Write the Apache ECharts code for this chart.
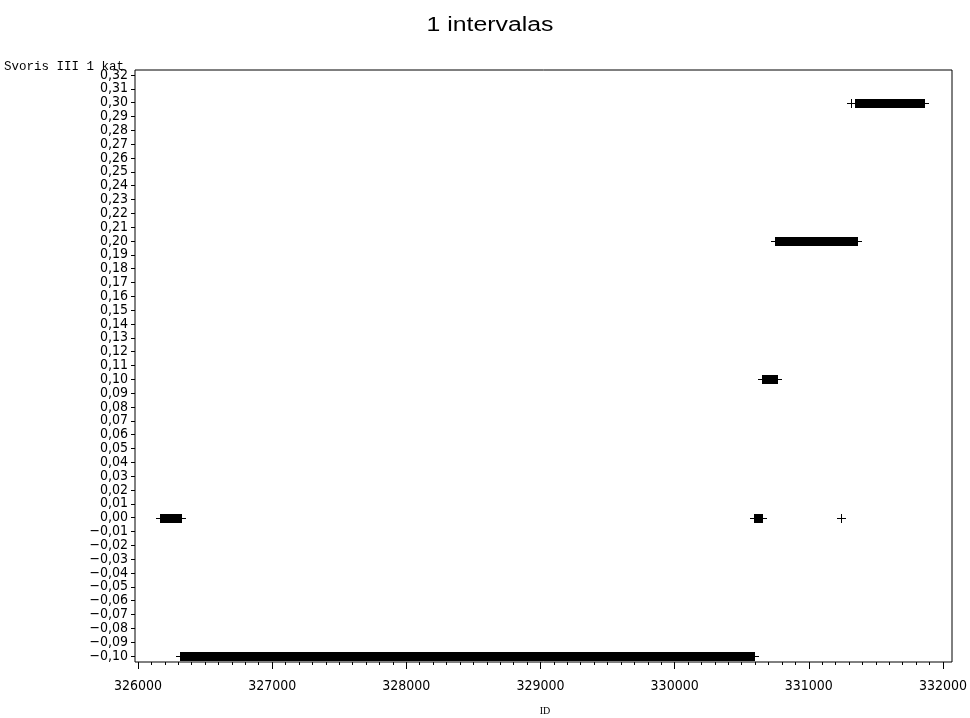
<!DOCTYPE html>
<html>
<head>
<meta charset="utf-8">
<script src="https://cdn.jsdelivr.net/npm/echarts@6/dist/echarts.min.js"></script>
<style>
  html, body { margin: 0; padding: 0; background: #fff; }
  #chart { width: 970px; height: 718px; }
</style>
</head>
<body>
<div id="chart"></div>
<script>
// Runs of consecutive IDs sharing the same weight value: [first ID, last ID, value]
const runStart = [326310, 326161, 330590, 331240, 330650, 330750, 331313, 331343];
const runEnd   = [330588, 326321, 330650, 331240, 330760, 331358, 331313, 331855];
const runValue = [-0.10,  0.00,   0.00,   0.00,   0.10,   0.20,   0.30,   0.30];

const titleText = '1 intervalas';
const yName = 'Svoris III 1 kat';
const xName = 'ID';
const xMin = 326000, xMax = 332000, xStep = 1000;
const yMin = -0.10, yMax = 0.32, yStep = 0.01;

const runs = runStart.map((s, i) => [s, runEnd[i], runValue[i]]);

const fmtY = v => {
  const s = Math.abs(v).toFixed(2).replace('.', ',');
  return (v < -1e-9 ? '\u2212' : '') + s;
};

const chart = echarts.init(document.getElementById('chart'), null, { renderer: 'canvas' });

const tickFont = { fontFamily: 'DejaVu Sans Condensed, Liberation Sans Narrow, Liberation Sans, sans-serif', fontSize: 14, color: '#000' };

chart.setOption({
  animation: false,
  backgroundColor: '#fff',
  graphic: [
    {
      type: 'text', x: 490, y: 15, scaleX: 1.24, originX: 0,
      style: { text: titleText, align: 'center', verticalAlign: 'top', fontFamily: 'Liberation Sans, Arial, sans-serif', fontSize: 20, fill: '#000' }
    },
    {
      type: 'text', left: 4, top: 60,
      style: { text: yName, fontFamily: 'Liberation Mono, DejaVu Sans Mono, monospace', fontSize: 12.5, fill: '#000' }
    },
    {
      type: 'text', x: 545, y: 711,
      style: { text: xName, align: 'center', verticalAlign: 'middle', fontFamily: 'Liberation Serif, DejaVu Serif, serif', fontSize: 10, fill: '#000' }
    }
  ],
  grid: [
    // data area
    { left: 138, right: 22, top: 75, bottom: 62, show: false },
    // outer frame
    { left: 135, right: 18, top: 70, bottom: 56, show: true, borderColor: '#000', borderWidth: 1, backgroundColor: 'transparent' }
  ],
  xAxis: [
    {
      gridIndex: 0, type: 'value', min: xMin, max: xMax, interval: xStep,
      position: 'bottom', offset: 6,
      axisLine: { show: false, onZero: false },
      axisTick: { show: true, inside: false, length: 7, lineStyle: { color: '#000', width: 1 } },
      minorTick: { show: true, splitNumber: 10, length: 3, lineStyle: { color: '#000', width: 1 } },
      axisLabel: { margin: 17, ...tickFont, formatter: v => String(v) },
      splitLine: { show: false }
    },
    { gridIndex: 1, type: 'value', show: false, min: 0, max: 1 }
  ],
  yAxis: [
    {
      gridIndex: 0, type: 'value', min: yMin, max: yMax, interval: yStep,
      position: 'left', offset: 3,
      axisLine: { show: false, onZero: false },
      axisTick: { show: true, inside: false, length: 4, lineStyle: { color: '#000', width: 1 } },
      axisLabel: { margin: 7, ...tickFont, formatter: fmtY },
      splitLine: { show: false }
    },
    { gridIndex: 1, type: 'value', show: false, min: 0, max: 1 }
  ],
  series: [
    {
      type: 'custom',
      xAxisIndex: 0, yAxisIndex: 0,
      data: runs,
      clip: false,
      renderItem: function (params, api) {
        const p0 = api.coord([api.value(0), api.value(2)]);
        const p1 = api.coord([api.value(1), api.value(2)]);
        const half = 4.5;
        const x0 = Math.round(p0[0]);
        const x1 = Math.round(p1[0]);
        const cy = Math.round(p0[1]) + 0.5;
        return {
          type: 'group',
          children: [
            {
              type: 'rect',
              shape: { x: x0, y: cy - half, width: Math.max(1, x1 - x0 + 1), height: half * 2 },
              style: { fill: '#000' }
            },
            {
              type: 'line',
              shape: { x1: x0 - 4, y1: cy, x2: x1 + 5, y2: cy },
              style: { stroke: '#000', lineWidth: 1 }
            }
          ]
        };
      }
    }
  ]
});
</script>
</body>
</html>
